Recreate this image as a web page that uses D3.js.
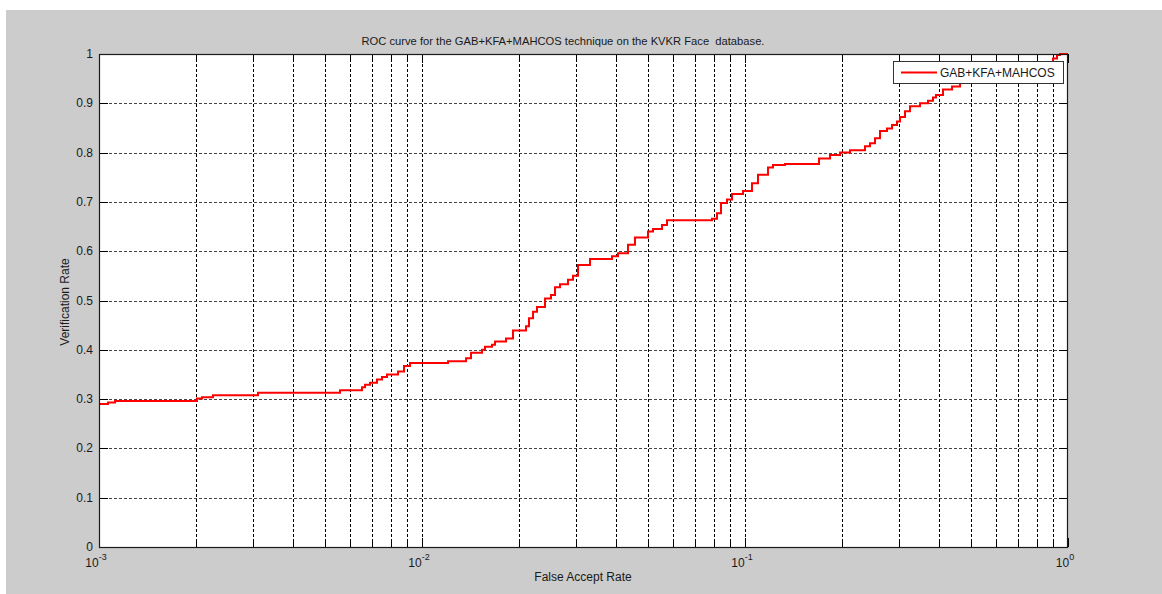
<!DOCTYPE html>
<html>
<head>
<meta charset="utf-8">
<script src="https://cdn.jsdelivr.net/npm/d3@7"></script>
<style>
  html, body { margin: 0; padding: 0; background: #ffffff; }
  svg { display: block; }
  text { font-family: "Liberation Sans", Arial, sans-serif; fill: #1a1a1a; }
</style>
</head>
<body>
<svg id="chart" width="1162" height="594"></svg>
<script>
// ---- data ----
const seriesName = "GAB+KFA+MAHCOS";
const far = [0.001, 0.001066, 0.001121, 0.002011, 0.002084, 0.002254, 0.003106, 0.005574, 0.006522, 0.006663,
  0.006902, 0.007254, 0.007518, 0.007792, 0.008427, 0.008796, 0.009181, 0.01204, 0.01369, 0.01418,
  0.01534, 0.01567, 0.01647, 0.01683, 0.0182, 0.01913, 0.02099, 0.02144, 0.02207, 0.0227,
  0.02403, 0.02508, 0.02581, 0.02674, 0.02831, 0.02934, 0.03041, 0.03312, 0.03874, 0.04044,
  0.04342, 0.04564, 0.05008, 0.0519, 0.05534, 0.05735, 0.07903, 0.0819, 0.08428, 0.08796,
  0.09115, 0.09859, 0.1051, 0.1097, 0.1178, 0.1221, 0.133, 0.1695, 0.1833, 0.1969,
  0.2114, 0.2352, 0.2438, 0.2526, 0.2618, 0.2752, 0.2852, 0.2955, 0.3019, 0.3129,
  0.3242, 0.3482, 0.3687, 0.3819, 0.3902, 0.4102, 0.4375, 0.4631, 0.534, 0.6159,
  0.7102, 0.7904, 0.8488, 0.8987, 0.9245, 0.9445, 1.0];
const verificationRate = [0.290, 0.293, 0.296, 0.301, 0.304, 0.308, 0.313, 0.318, 0.324, 0.329,
  0.333, 0.340, 0.345, 0.350, 0.356, 0.367, 0.373, 0.377, 0.383, 0.394,
  0.400, 0.406, 0.410, 0.417, 0.423, 0.439, 0.448, 0.464, 0.477, 0.487,
  0.504, 0.511, 0.527, 0.533, 0.542, 0.550, 0.572, 0.584, 0.590, 0.596,
  0.613, 0.628, 0.640, 0.645, 0.653, 0.663, 0.666, 0.677, 0.698, 0.705,
  0.716, 0.722, 0.738, 0.755, 0.770, 0.775, 0.777, 0.788, 0.795, 0.800,
  0.805, 0.813, 0.819, 0.829, 0.844, 0.849, 0.856, 0.863, 0.872, 0.884,
  0.894, 0.900, 0.905, 0.912, 0.917, 0.928, 0.934, 0.941, 0.947, 0.953,
  0.960, 0.970, 0.980, 0.991, 0.998, 1.000, 1.000];
const xMajorTicks = [0.001, 0.01, 0.1, 1];
const xTickExponents = ["-3", "-2", "-1", "0"];
const yTicks = [0, 0.1, 0.2, 0.3, 0.4, 0.5, 0.6, 0.7, 0.8, 0.9, 1];
const yTickLabels = ["0", "0.1", "0.2", "0.3", "0.4", "0.5", "0.6", "0.7", "0.8", "0.9", "1"];
const titleText = "ROC curve for the GAB+KFA+MAHCOS technique on the KVKR Face  database.";
const xLabel = "False Accept Rate";
const yLabel = "Verification Rate";

// ---- layout ----
const svg = d3.select("#chart");
const L = 99, R = 1068, T = 54, B = 547;

svg.append("rect").attr("x", 6).attr("y", 10).attr("width", 1156).attr("height", 584).attr("fill", "#cccccc");
svg.append("rect").attr("x", L).attr("y", T).attr("width", R - L).attr("height", B - T).attr("fill", "#ffffff");

const x = d3.scaleLog().domain([0.001, 1]).range([L, R]);
const y = d3.scaleLinear().domain([0, 1]).range([B, T]);

// minor ticks
const minorTicks = [];
for (let e = -3; e < 0; e++) for (let m = 2; m <= 9; m++) minorTicks.push(m * Math.pow(10, e));

const grid = svg.append("g").attr("stroke", "#000").attr("stroke-width", 1)
  .attr("stroke-dasharray", "3,2").attr("shape-rendering", "crispEdges");
grid.selectAll("line.v").data(minorTicks.concat(xMajorTicks.slice(1, 3))).enter().append("line")
  .attr("x1", d => Math.round(x(d)) + 0.5).attr("x2", d => Math.round(x(d)) + 0.5)
  .attr("y1", T).attr("y2", B);
grid.selectAll("line.h").data(yTicks.slice(1, -1)).enter().append("line")
  .attr("x1", L).attr("x2", R)
  .attr("y1", d => Math.round(y(d)) + 0.5).attr("y2", d => Math.round(y(d)) + 0.5)
  .attr("stroke", "#444");

// ticks (inside, all four sides)
const tk = svg.append("g").attr("stroke", "#000").attr("stroke-width", 1).attr("shape-rendering", "crispEdges");
const majLen = 9, minLen = 5;
xMajorTicks.forEach(d => {
  const px = Math.round(x(d)) + 0.5;
  tk.append("line").attr("x1", px).attr("x2", px).attr("y1", B).attr("y2", B - majLen);
  tk.append("line").attr("x1", px).attr("x2", px).attr("y1", T).attr("y2", T + majLen);
});
minorTicks.forEach(d => {
  const px = Math.round(x(d)) + 0.5;
  tk.append("line").attr("x1", px).attr("x2", px).attr("y1", B).attr("y2", B - minLen);
  tk.append("line").attr("x1", px).attr("x2", px).attr("y1", T).attr("y2", T + minLen);
});
yTicks.forEach(d => {
  const py = Math.round(y(d)) + 0.5;
  tk.append("line").attr("x1", L).attr("x2", L + majLen).attr("y1", py).attr("y2", py);
  tk.append("line").attr("x1", R).attr("x2", R - majLen).attr("y1", py).attr("y2", py);
});

// curve
const data = far.map((f, i) => ({ f: f, v: verificationRate[i] }));
const line = d3.line().x(d => x(d.f)).y(d => y(d.v)).curve(d3.curveStepAfter);
svg.append("path").datum(data).attr("d", line).attr("fill", "none")
  .attr("stroke", "#ff0000").attr("stroke-width", 2);

// axes box
svg.append("rect").attr("x", L + 0.5).attr("y", T + 0.5).attr("width", R - L - 1).attr("height", B - T)
  .attr("fill", "none").attr("stroke", "#1a1a1a").attr("stroke-width", 1.2);

// y tick labels
svg.selectAll("text.yl").data(yTicks).enter().append("text")
  .attr("x", L - 6).attr("y", d => y(d) + 4).attr("text-anchor", "end")
  .attr("font-size", 12).text((d, i) => yTickLabels[i]);

// x tick labels (10^e)
xMajorTicks.forEach((d, i) => {
  const t = svg.append("text").attr("x", x(d) - 3).attr("y", B + 20)
    .attr("text-anchor", "middle").attr("font-size", 12);
  t.append("tspan").text("10");
  t.append("tspan").attr("dy", -7).attr("font-size", 9).text(xTickExponents[i]);
});

// title and labels
svg.append("text").attr("x", 563).attr("y", 45).attr("text-anchor", "middle")
  .attr("font-size", 11.2).style("white-space", "pre").attr("xml:space", "preserve").text(titleText);
svg.append("text").attr("x", 583).attr("y", 581).attr("text-anchor", "middle")
  .attr("font-size", 12).text(xLabel);
svg.append("text").attr("transform", "translate(69,302) rotate(-90)").attr("text-anchor", "middle")
  .attr("font-size", 12).text(yLabel);

// legend
const lg = svg.append("g");
lg.append("rect").attr("x", 893.5).attr("y", 61.5).attr("width", 170).attr("height", 22)
  .attr("fill", "#ffffff").attr("stroke", "#333").attr("stroke-width", 1);
lg.append("line").attr("x1", 901).attr("x2", 937).attr("y1", 72.5).attr("y2", 72.5)
  .attr("stroke", "#ff0000").attr("stroke-width", 2);
lg.append("text").attr("x", 940).attr("y", 77).attr("font-size", 12).text(seriesName);
</script>
</body>
</html>
